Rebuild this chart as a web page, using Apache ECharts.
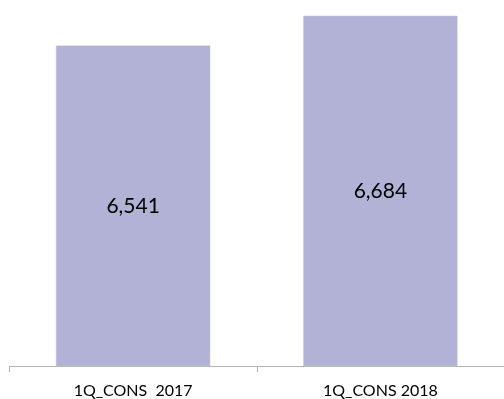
<!DOCTYPE html>
<html>
<head>
<meta charset="utf-8">
<script src="https://cdn.jsdelivr.net/npm/echarts@6/dist/echarts.min.js"></script>
<style>html,body{margin:0;padding:0;background:#fff;}#c{width:504px;height:399px;}</style>
</head>
<body>
<div id="c"></div>
<script>
var categories = ['1Q_CONS  2017', '1Q_CONS 2018'];
var values = [6541, 6684];

var chart = echarts.init(document.getElementById('c'), null, {renderer: 'canvas'});
chart.setOption({
  animation: false,
  grid: {left: 9.5, width: 497, top: 0, bottom: 33},
  xAxis: {
    type: 'category',
    data: categories,
    axisLine: {show: true, lineStyle: {color: '#b4b4b4', width: 1}},
    axisTick: {show: true, length: 6, lineStyle: {color: '#b4b4b4'}},
    axisLabel: {color: '#000', fontSize: 16, fontFamily: 'Lato', margin: 17}
  },
  yAxis: {
    type: 'value',
    min: 5000,
    max: 6760,
    show: false,
    splitLine: {show: false}
  },
  series: [{
    type: 'bar',
    data: values,
    barWidth: '62.4%',
    itemStyle: {color: '#b2b2d6', borderColor: '#c4c4e0', borderWidth: 0.5},
    label: {
      show: true,
      position: 'inside',
      color: '#000',
      fontSize: 21,
      fontFamily: 'Lato',
      formatter: function (p) { return p.value.toLocaleString('en-US'); }
    }
  }]
});
</script>
</body>
</html>
